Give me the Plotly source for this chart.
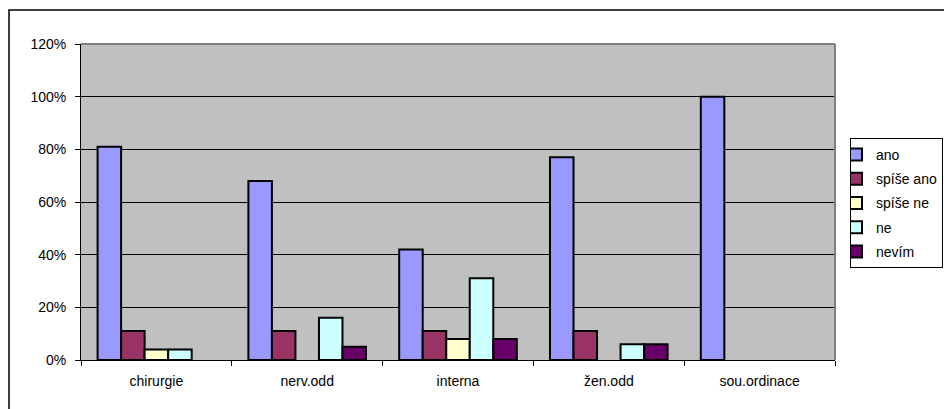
import plotly.graph_objects as go

categories = ["chirurgie", "nerv.odd", "interna", "žen.odd", "sou.ordinace"]
series_names = ["ano", "spíše ano", "spíše ne", "ne", "nevím"]
ano = [0.81, 0.68, 0.42, 0.77, 1.00]
spise_ano = [0.11, 0.11, 0.11, 0.11, 0.0]
spise_ne = [0.04, 0.0, 0.08, 0.0, 0.0]
ne = [0.04, 0.16, 0.31, 0.06, 0.0]
nevim = [0.0, 0.05, 0.08, 0.06, 0.0]
y_ticks = [0, 0.2, 0.4, 0.6, 0.8, 1.0, 1.2]
y_tick_labels = ["0%", "20%", "40%", "60%", "80%", "100%", "120%"]

series_values = [ano, spise_ano, spise_ne, ne, nevim]
colors = ["#9999FF", "#993366", "#FFFFCC", "#CCFFFF", "#660066"]

W, H = 944, 409
L, R, T, B = 81, 109, 44, 49
pw, ph = W - L - R, H - T - B

fig = go.Figure()
for i, (name, vals, col) in enumerate(zip(series_names, series_values, colors)):
    fig.add_trace(go.Bar(
        x=categories, y=[v if v else None for v in vals], name=name, legendgroup=name,
        marker=dict(color=col, line=dict(color="black", width=2)),
    ))

font = "Liberation Sans, Arial, sans-serif"
fig.update_layout(
    width=W, height=H,
    margin=dict(l=L, r=R, t=T, b=B, pad=0, autoexpand=False),
    paper_bgcolor="white",
    plot_bgcolor="#C0C0C0",
    barmode="group", bargap=0.22, bargroupgap=0,
    font=dict(family=font, size=14, color="black"),
    showlegend=True,
    legend=dict(
        x=(943 - L) / pw, y=1 - (138 - T) / ph, xanchor="right", yanchor="top",
        bgcolor="white", bordercolor="black", borderwidth=1,
        font=dict(family=font, size=14, color="black"),
        tracegroupgap=3, itemwidth=30, traceorder="grouped", indentation=-15,
    ),
    xaxis=dict(
        type="category", showline=True, linecolor="black", linewidth=1,
        ticks="outside", tickson="boundaries", ticklen=5, tickcolor="black",
        showgrid=False, ticklabelstandoff=8,
        tickfont=dict(family=font, size=14),
    ),
    yaxis=dict(
        range=[0, 1.2], tickvals=y_ticks, ticktext=y_tick_labels,
        showline=True, linecolor="black", linewidth=1,
        ticks="outside", ticklen=5, tickcolor="black",
        showgrid=True, gridcolor="black", gridwidth=1,
        zeroline=False, ticklabelstandoff=6,
        tickfont=dict(family=font, size=14),
    ),
    shapes=[
        dict(type="rect", xref="paper", yref="paper",
             x0=(9 - L) / pw, x1=(990 - L) / pw,
             y0=1 + (T - 440) / ph, y1=1 + (T - 10) / ph,
             line=dict(color="black", width=1.5), fillcolor="rgba(0,0,0,0)", layer="below"),
        dict(type="line", xref="paper", yref="paper", x0=0, x1=1, y0=1, y1=1,
             line=dict(color="#808080", width=2)),
        dict(type="line", xref="paper", yref="paper", x0=1, x1=1, y0=0, y1=1,
             line=dict(color="#808080", width=2)),
    ],
)

fig.write_html("out.html")
